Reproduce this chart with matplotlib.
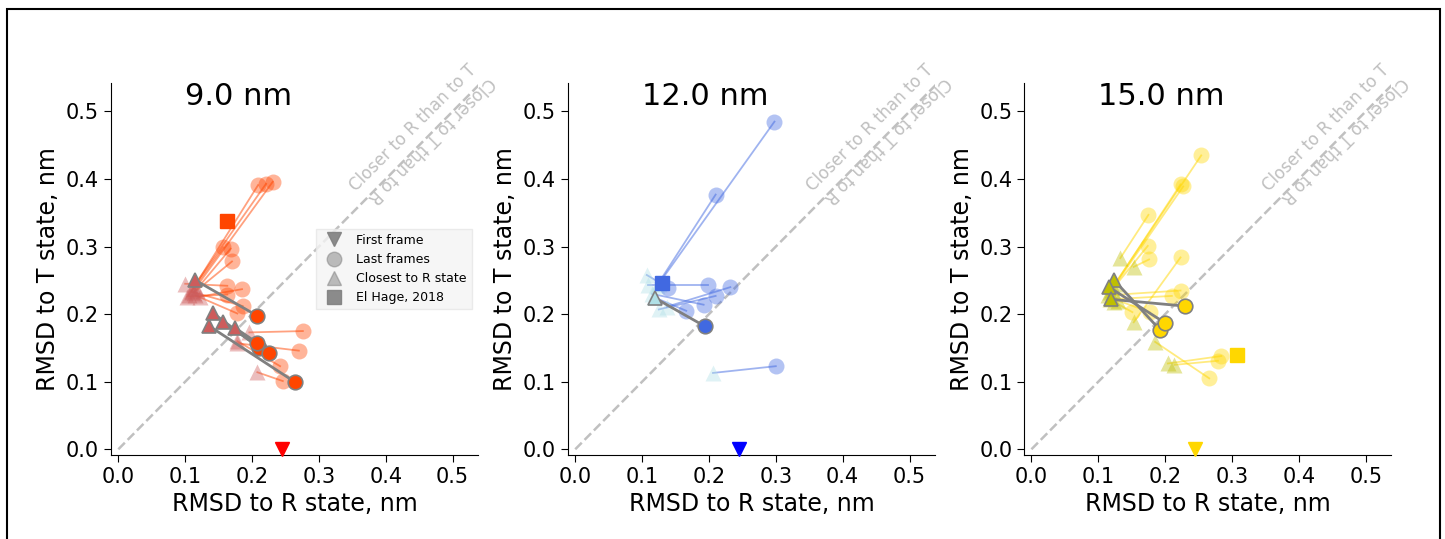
import matplotlib
matplotlib.use('Agg')
import matplotlib.pyplot as plt
from matplotlib.lines import Line2D
from matplotlib.patches import Rectangle

# box sizes and labels
titles = ['9.0 nm', '12.0 nm', '15.0 nm']

# 9.0 nm: closest-to-R points (triangles) and last frames (circles), one per run
tri_x_9 = [0.110, 0.112, 0.115, 0.105, 0.113, 0.118, 0.100, 0.122, 0.103, 0.110, 0.115, 0.196, 0.177, 0.208, 0.178]
tri_y_9 = [0.235, 0.240, 0.238, 0.228, 0.232, 0.236, 0.245, 0.226, 0.226, 0.233, 0.228, 0.173, 0.157, 0.114, 0.160]
last_x_9 = [0.209, 0.221, 0.231, 0.157, 0.168, 0.170, 0.163, 0.185, 0.163, 0.186, 0.178, 0.276, 0.270, 0.246, 0.242]
last_y_9 = [0.391, 0.393, 0.396, 0.299, 0.297, 0.278, 0.242, 0.237, 0.229, 0.212, 0.201, 0.175, 0.146, 0.101, 0.123]
# highlighted runs
hl_tri_x_9 = [0.114, 0.141, 0.157, 0.174, 0.135]
hl_tri_y_9 = [0.251, 0.202, 0.188, 0.180, 0.183]
hl_last_x_9 = [0.207, 0.211, 0.225, 0.207, 0.265]
hl_last_y_9 = [0.198, 0.150, 0.142, 0.158, 0.099]

# 12.0 nm
tri_x_12 = [0.125, 0.122, 0.107, 0.109, 0.137, 0.125, 0.115, 0.118, 0.206]
tri_y_12 = [0.245, 0.242, 0.258, 0.243, 0.211, 0.207, 0.230, 0.225, 0.113]
last_x_12 = [0.298, 0.210, 0.139, 0.199, 0.232, 0.210, 0.192, 0.166, 0.300]
last_y_12 = [0.485, 0.377, 0.239, 0.243, 0.240, 0.227, 0.214, 0.205, 0.123]
hl_tri_x_12 = [0.119]
hl_tri_y_12 = [0.224]
hl_last_x_12 = [0.194]
hl_last_y_12 = [0.182]

# 15.0 nm
tri_x_15 = [0.125, 0.122, 0.120, 0.133, 0.118, 0.153, 0.153, 0.115, 0.117, 0.124, 0.130, 0.204, 0.214, 0.185]
tri_y_15 = [0.245, 0.240, 0.236, 0.283, 0.233, 0.270, 0.188, 0.228, 0.222, 0.218, 0.220, 0.127, 0.125, 0.159]
last_x_15 = [0.254, 0.223, 0.227, 0.175, 0.174, 0.176, 0.223, 0.223, 0.210, 0.151, 0.177, 0.284, 0.279, 0.266]
last_y_15 = [0.435, 0.392, 0.389, 0.347, 0.301, 0.281, 0.284, 0.235, 0.227, 0.203, 0.203, 0.138, 0.131, 0.105]
hl_tri_x_15 = [0.124, 0.116, 0.119]
hl_tri_y_15 = [0.250, 0.240, 0.222]
hl_last_x_15 = [0.193, 0.200, 0.229]
hl_last_y_15 = [0.176, 0.187, 0.212]

# first frame (RMSD to R of the T-state start) and El Hage 2018 reference
first_x = [0.2455, 0.245, 0.245]
elhage_x = [0.163, 0.130, 0.308]
elhage_y = [0.338, 0.246, 0.139]

circ_colors = ['orangered', 'royalblue', 'gold']
tri_colors = ['indianred', 'powderblue', 'y']
first_colors = ['red', 'blue', 'gold']

runs = [
    (tri_x_9, tri_y_9, last_x_9, last_y_9, hl_tri_x_9, hl_tri_y_9, hl_last_x_9, hl_last_y_9),
    (tri_x_12, tri_y_12, last_x_12, last_y_12, hl_tri_x_12, hl_tri_y_12, hl_last_x_12, hl_last_y_12),
    (tri_x_15, tri_y_15, last_x_15, last_y_15, hl_tri_x_15, hl_tri_y_15, hl_last_x_15, hl_last_y_15),
]

fig = plt.figure(figsize=(14.45, 5.39), dpi=100)
lefts = [0.0768, 0.393, 0.7087]
ms = 10.5

for i, left in enumerate(lefts):
    ax = fig.add_axes([left, 0.1558, 0.254, 0.690])
    tx, ty, lx, ly, htx, hty, hlx, hly = runs[i]
    cc, tc = circ_colors[i], tri_colors[i]

    # diagonal
    ax.plot([0, 0.54], [0, 0.54], '--', color='silver', lw=1.8, zorder=1)
    ax.text(0.441, 0.475, 'Closer to R than to T', rotation=45, rotation_mode='anchor',
            ha='center', va='center', color='silver', fontsize=12)
    ax.text(0.467, 0.458, 'Closer to T than to R', rotation=225, rotation_mode='anchor',
            ha='center', va='center', color='silver', fontsize=12)

    for a, b, c, d in zip(tx, ty, lx, ly):
        ax.plot([a, c], [b, d], '-', color=cc, alpha=0.5, lw=1.3, zorder=2)
    ax.plot(tx, ty, '^', color=tc, alpha=0.4, ms=11, mec='none', ls='none', zorder=3)
    ax.plot(lx, ly, 'o', color=cc, alpha=0.4, ms=11.5, mec='none', ls='none', zorder=3)

    for a, b, c, d in zip(htx, hty, hlx, hly):
        ax.plot([a, c], [b, d], '-', color='grey', lw=2, zorder=4)
    ax.plot(htx, hty, '^', color=tc, ms=ms, mec='grey', mew=1.2, ls='none', zorder=5)
    ax.plot(hlx, hly, 'o', color=cc, ms=ms, mec='grey', mew=1.2, ls='none', zorder=5)

    ax.plot(elhage_x[i], elhage_y[i], 's', color=cc, ms=ms, ls='none', zorder=6)
    ax.plot(first_x[i], 0, 'v', color=first_colors[i], ms=ms, ls='none', zorder=6, clip_on=False)

    ax.text(0.1, 0.5, titles[i], fontsize=22, ha='left', va='bottom')

    ax.set_xlim(-0.011, 0.538)
    ax.set_ylim(-0.0085, 0.542)
    ax.set_xticks([0.0, 0.1, 0.2, 0.3, 0.4, 0.5])
    ax.set_yticks([0.0, 0.1, 0.2, 0.3, 0.4, 0.5])
    ax.tick_params(labelsize=15, length=5)
    ax.spines['top'].set_visible(False)
    ax.spines['right'].set_visible(False)
    ax.set_xlabel('RMSD to R state, nm', fontsize=17)
    ax.set_ylabel('RMSD to T state, nm', fontsize=17)

    if i == 0:
        handles = [
            Line2D([], [], marker='v', color='grey', ls='none', ms=ms, alpha=0.9),
            Line2D([], [], marker='o', color='grey', ls='none', ms=ms, alpha=0.5),
            Line2D([], [], marker='^', color='grey', ls='none', ms=ms, alpha=0.5),
            Line2D([], [], marker='s', color='grey', ls='none', ms=ms, alpha=0.9),
        ]
        leg = ax.legend(handles, ['First frame', 'Last frames', 'Closest to R state', 'El Hage, 2018'],
                        loc='center right', fontsize=9, frameon=True, fancybox=False)
        leg.get_frame().set_facecolor('#f4f4f4')
        leg.get_frame().set_edgecolor('#e6e6e6')

# thin frame around the whole picture
fig.patches.append(Rectangle((7 / 1445, -0.02), 1433 / 1445, 1.02 - 9 / 539, transform=fig.transFigure,
                             fill=False, edgecolor='black', lw=1.5))

fig.savefig('out.png', dpi=100)
